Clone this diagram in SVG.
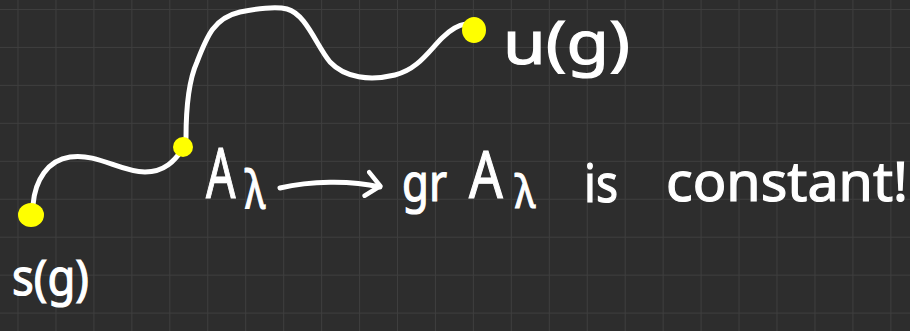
<svg xmlns="http://www.w3.org/2000/svg" width="910" height="331" viewBox="0 0 910 331">
<defs>
<pattern id="grid" x="17.5" y="9" width="37.95" height="37.95" patternUnits="userSpaceOnUse">
<path d="M0,0 H37.95 M0,0 V37.95" fill="none" stroke="#3e3e3e" stroke-width="2"/>
</pattern>
<marker id="chev" viewBox="0 0 20 30" refX="16" refY="15" markerWidth="20" markerHeight="30" markerUnits="userSpaceOnUse" orient="auto">
<path d="M2,3 L16,14 L3,27" fill="none" stroke="#ffffff" stroke-width="4.5" stroke-linecap="round" stroke-linejoin="round"/>
</marker>
</defs>
<style>
.bg{fill:#2d2d2d}
.ink{fill:none;stroke:#ffffff;stroke-width:5;stroke-linecap:round;stroke-linejoin:round}
.dot{fill:#ffff00}
.t{font-family:"Noto Sans","Liberation Sans",sans-serif;fill:#ffffff;stroke:#ffffff;stroke-width:1.2}
</style>
<rect class="bg" width="910" height="331"/>
<rect width="910" height="331" fill="url(#grid)"/>
<g id="connectors">
<path class="ink" d="M33,205 C35,180 48,160 70,157 C98,153 120,172 145,172 C165,172 175,160 182,150"/>
<path class="ink" d="M186,138 C186,110 188,82 197,62 C207,36 214,18 240,12 C260,8 276,6 287,9 C306,14 316,45 330,62 C345,78 370,81 395,75 C418,69 428,52 442,38 C451,29 458,25 466,24"/>
<path class="ink" d="M280,188 C310,181 350,180 380,187" marker-end="url(#chev)"/>
</g>
<g id="s-node">
<ellipse class="dot" cx="31" cy="215" rx="13" ry="12"/>
<text class="t" x="12" y="295" font-size="50" textLength="77" lengthAdjust="spacingAndGlyphs">s(g)</text>
</g>
<g id="a-node">
<ellipse class="dot" cx="183" cy="147" rx="10" ry="10"/>
<text class="t" transform="translate(206,198) scale(0.66,1)" font-size="70">A</text>
<text class="t" transform="translate(245,208) scale(0.75,1)" font-size="52">λ</text>
</g>
<g id="u-node">
<ellipse class="dot" cx="474" cy="30" rx="12" ry="13"/>
<text class="t" x="503" y="64" font-size="60" textLength="127" lengthAdjust="spacingAndGlyphs">u(g)</text>
</g>
<g id="gr-label">
<text class="t" x="402" y="201" font-size="52" textLength="45" lengthAdjust="spacingAndGlyphs">gr</text>
<text class="t" transform="translate(469,198) scale(0.8,1)" font-size="66">A</text>
<text class="t" transform="translate(515,208) scale(0.85,1)" font-size="46">λ</text>
<text class="t" x="584" y="202" font-size="52" textLength="34" lengthAdjust="spacingAndGlyphs">is</text>
<text class="t" x="666" y="201" font-size="54" textLength="242" lengthAdjust="spacingAndGlyphs">constant!</text>
</g>
</svg>
